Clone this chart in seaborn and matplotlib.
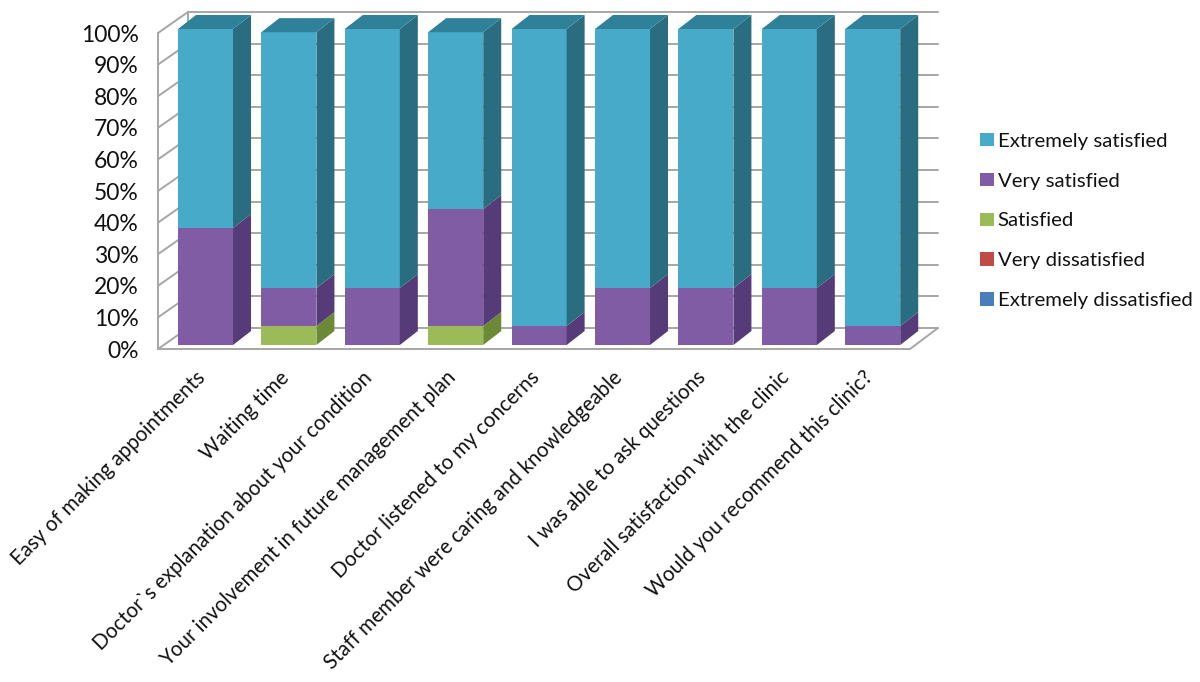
#!/usr/bin/env python3
import numpy as np
import matplotlib
matplotlib.use("Agg")
import matplotlib.pyplot as plt
from matplotlib.patches import Patch, Polygon
from matplotlib.transforms import ScaledTranslation
import seaborn as sns

# -----------------------------------------------------------------------------
# DATA (percent of answers)
# -----------------------------------------------------------------------------
questions = [
    "Easy of making appointments",
    "Waiting time",
    "Doctor`s explanation about your condition",
    "Your involvement in future management plan",
    "Doctor listened to my concerns",
    "Staff member were caring and knowledgeable",
    "I was able to ask questions",
    "Overall satisfaction with the clinic",
    "Would you recommend this clinic?",
]
extremely_dissatisfied = [0, 0, 0, 0, 0, 0, 0, 0, 0]
very_dissatisfied = [0, 0, 0, 0, 0, 0, 0, 0, 0]
satisfied = [0, 6, 0, 6, 0, 0, 0, 0, 0]
very_satisfied = [37, 12, 18, 37, 6, 18, 18, 18, 6]
extremely_satisfied = [63, 81, 82, 56, 94, 82, 82, 82, 94]
pct_ticks = [0, 10, 20, 30, 40, 50, 60, 70, 80, 90, 100]

# -----------------------------------------------------------------------------
# SETUP
# -----------------------------------------------------------------------------
sns.set_theme(style="white")
plt.rcParams["font.family"] = ["Lato", "DejaVu Sans"]

W, H = 1200, 682
fig = plt.figure(figsize=(W / 100, H / 100), dpi=100)
ax = fig.add_axes([158 / W, (H - 345) / H, (911 - 158) / W, 316 / H])

# bottom to top, (front, side, top)
series = [
    ("Extremely dissatisfied", extremely_dissatisfied, "#4A7EBB", "#35598A", "#35598A"),
    ("Very dissatisfied", very_dissatisfied, "#BE4B48", "#8C3634", "#8C3634"),
    ("Satisfied", satisfied, "#9BBB59", "#6C8A35", "#7C9A40"),
    ("Very satisfied", very_satisfied, "#7F5CA3", "#553B78", "#654A85"),
    ("Extremely satisfied", extremely_satisfied, "#46AAC8", "#2A6C80", "#2F8099"),
]

px_x = 83.4  # pixels per category
px_y = 3.16  # pixels per percent
bar_dx, bar_dy = 18 / px_x, 14 / px_y

# -----------------------------------------------------------------------------
# BARS
# -----------------------------------------------------------------------------
bottoms = np.zeros(len(questions))
for name, vals, front, side, top in series:
    n_before = len(ax.patches)
    sns.barplot(x=questions, y=vals, bottom=bottoms, color=front, saturation=1,
                width=0.66, ax=ax, zorder=3, linewidth=0)
    for p in ax.patches[n_before:]:
        if p.get_height() <= 0:
            continue
        x1 = p.get_x() + p.get_width()
        y0, y1 = p.get_y(), p.get_y() + p.get_height()
        ax.add_patch(Polygon(
            [(x1, y0), (x1 + bar_dx, y0 + bar_dy), (x1 + bar_dx, y1 + bar_dy), (x1, y1)],
            fc=side, ec="none", zorder=3, clip_on=False))
    bottoms = bottoms + np.array(vals)

# top caps
for p in ax.patches[:]:
    if not hasattr(p, "get_width"):
        continue
    y1 = p.get_y() + p.get_height()
    if p.get_height() > 0 and y1 >= 98:
        x0, x1 = p.get_x(), p.get_x() + p.get_width()
        ax.add_patch(Polygon(
            [(x0, y1), (x1, y1), (x1 + bar_dx, y1 + bar_dy), (x0 + bar_dx, y1 + bar_dy)],
            fc=series[-1][4], ec="none", zorder=3, clip_on=False))

ax.set_ylim(0, 100)
ax.set_xlim((158 - 205.5) / px_x, (911 - 205.5) / px_x)

# -----------------------------------------------------------------------------
# WALLS AND FLOOR
# -----------------------------------------------------------------------------
grid_c = "#A6A6A6"
xl_front, xl_back = ax.get_xlim()[0], (188 - 205.5) / px_x
xr_front, xr_back = (910 - 205.5) / px_x, (938 - 205.5) / px_x
y_front, y_back = -4 / px_y, 17 / px_y
line_kw = dict(color=grid_c, lw=1.4, clip_on=False, zorder=1, solid_capstyle="round")

for t in pct_ticks:
    ax.plot([xl_front, xl_back], [y_front + t, y_back + t], **line_kw)
    ax.plot([xl_back, xr_back], [y_back + t, y_back + t], **line_kw)
ax.plot([xl_front, xl_front], [y_front, y_front + 100], **line_kw)
ax.plot([xl_back, xl_back], [y_back, y_back + 100], **line_kw)
ax.plot([xl_front, xr_front, xr_back], [y_front, y_front, y_back], **line_kw)

# -----------------------------------------------------------------------------
# AXES TEXT
# -----------------------------------------------------------------------------
sns.despine(ax=ax, left=True, bottom=True)
ax.set_yticks(pct_ticks)
ax.set_yticklabels([f"{t}%" for t in pct_ticks])
ax.tick_params(axis="y", length=0, pad=14, labelsize=16.5, labelcolor="#111111")
shift = ScaledTranslation(0, -3 / 72, fig.dpi_scale_trans)
for lab in ax.get_yticklabels():
    lab.set_transform(lab.get_transform() + shift)

ax.tick_params(axis="x", length=0, pad=19, labelsize=14.8, labelcolor="#111111")
ax.set_xticks(range(len(questions)))
ax.set_xticklabels(questions, rotation=45, ha="right", va="top", rotation_mode="anchor")
shift_x = ScaledTranslation(-0.10, 0.04, fig.dpi_scale_trans)
for lab in ax.get_xticklabels():
    lab.set_transform(lab.get_transform() + shift_x)
ax.set_xlabel("")
ax.set_ylabel("")

handles = [Patch(fc=s[2], ec="none", label=s[0]) for s in reversed(series)]
fig.legend(handles=handles, loc="center left", bbox_to_anchor=(962 / W, 1 - 221 / H),
           frameon=False, fontsize=14.7, handlelength=0.65, handleheight=0.65,
           handletextpad=0.2, labelspacing=1.12, labelcolor="#111111")

fig.savefig("out.png", dpi=100)
